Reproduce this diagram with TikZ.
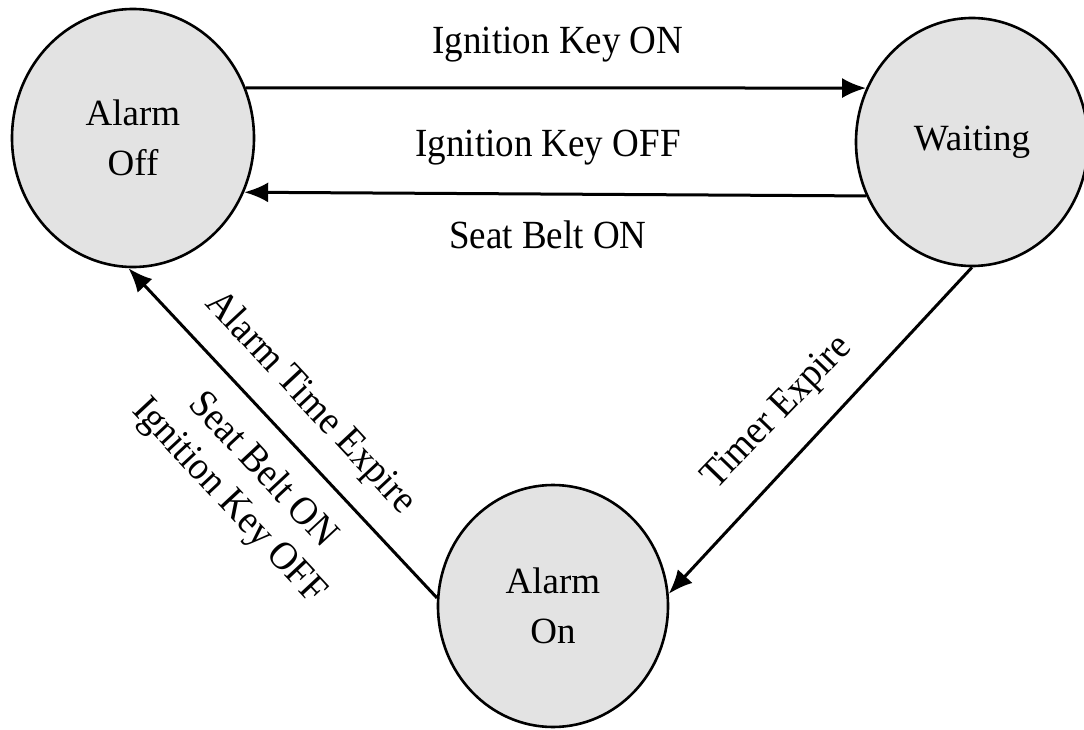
\documentclass[tikz,border=0pt]{standalone}
\usepackage{fontspec}
\setmainfont{Liberation Serif}
\usetikzlibrary{shapes.geometric,arrows.meta}

\tikzset{
  state/.style={ellipse, draw=black, line width=2.6pt, fill=black!11,
    inner sep=0pt, align=center, font=\fontsize{37}{50}\selectfont},
  trans/.style={line width=3pt, -{Latex[length=24pt,width=20pt]}},
  lbl/.style={font=\fontsize{37}{44}\selectfont, inner sep=0pt}
}

\begin{document}
\begin{tikzpicture}[x=1pt, y=-1pt]
  \useasboundingbox (0,0) rectangle (1084,730);

  % states
  \node[state, minimum width=242pt, minimum height=258pt] (off) at (133,138) {Alarm\\Off};
  \node[state, minimum width=232pt, minimum height=248pt] (wait) at (972,142) {Waiting};
  \node[state, minimum width=230pt, minimum height=242pt] (on) at (553,606) {Alarm\\On};

  % transitions
  \draw[trans] (off.24.7) -- (wait.153.4);
  \draw[trans] (wait.207.2) -- (off.-26.8);
  \draw[trans] (wait.270) -- (on.6.4);
  \draw[trans] (on.176) -- (off.268);

  % transition labels
  \node[lbl, yscale=1.08] (l1) at (558,45) {Ignition Key ON};
  \node[lbl, yscale=1.08] (l2) at (548,148) {Ignition Key OFF};
  \node[lbl, yscale=1.08] (l3) at (548,235) {Seat Belt ON};
  \node[lbl, rotate=46, yscale=1.08] (l4) at (778,413) {Timer Expire};
  \node[lbl, rotate=-47, yscale=1.08] (l5) at (310,403) {Alarm Time Expire};
  \node[lbl, rotate=-47, yscale=1.08] (l6) at (265,468) {Seat Belt ON};
  \node[lbl, rotate=-47, yscale=1.08] (l7) at (228,502) {Ignition Key OFF};
\end{tikzpicture}
\end{document}
